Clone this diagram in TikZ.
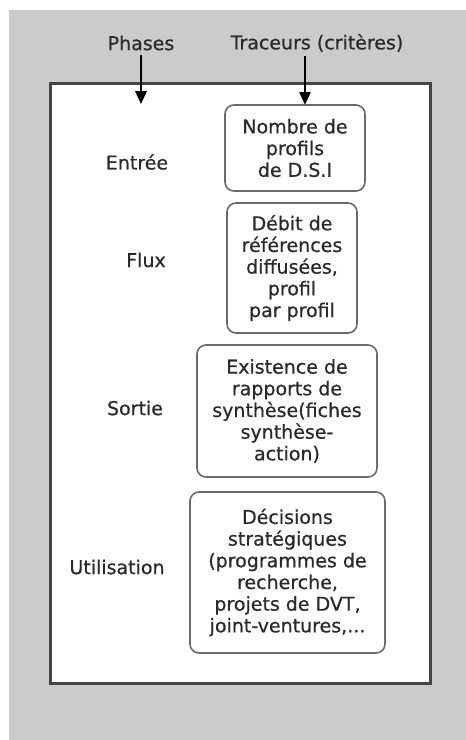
\documentclass[tikz,border=0pt]{standalone}
\usepackage{fontspec}
\setmainfont{DejaVu Sans}
\newfontfamily\diagfont{DejaVu Sans}[FakeBold=0.6]
\usetikzlibrary{arrows.meta}
\definecolor{bggray}{HTML}{CBCBCB}
\definecolor{ink}{HTML}{2A2A2A}
\definecolor{framegray}{HTML}{454545}
\definecolor{boxgray}{HTML}{6A6A6A}
\begin{document}
\begin{tikzpicture}[x=1pt,y=-1pt,
  lbl/.style={font=\diagfont\fontsize{19}{21.7}\selectfont, text=ink, inner sep=0pt},
  crit/.style={draw=boxgray, line width=1.6pt, rounded corners=9pt, align=center,
    font=\diagfont\fontsize{19}{21.7}\selectfont, text=ink, inner sep=0pt},
  down/.style={-{Triangle[length=13pt,width=11pt]}, line width=2.8pt, draw=black}]
\useasboundingbox (0,0) rectangle (466,740);
% page and grey backdrop
\fill[white] (0,0) rectangle (466,740);
\fill[bggray] (9,10) rectangle (466,740);
% white panel
\draw[framegray, line width=3pt, fill=white] (50,83) rectangle (430,683);

% column headings
\node[lbl] (phases) at (141,43) {Phases};
\node[lbl] (traceurs) at (317,43) {Traceurs (critères)};

% phases
\node[lbl] (entree) at (137,162) {Entrée};
\node[lbl] (flux) at (146,260) {Flux};
\node[lbl] (sortie) at (135,408) {Sortie};
\node[lbl] (util) at (117,567) {Utilisation};

% criteria boxes
\node[crit, minimum width=140pt, minimum height=86pt] (b1) at (295,148)
  {Nombre de\\profils\\de D.S.I};
\node[crit, minimum width=130pt, minimum height=130pt] (b2) at (292,268)
  {Débit de\\références\\diffusées,\\profil\\par profil};
\node[crit, minimum width=180pt, minimum height=132pt] (b3) at (287,411)
  {Existence de\\rapports de\\synthèse(fiches\\synthèse-\\action)};
\node[crit, minimum width=195pt, minimum height=161pt] (b4) at (287.5,572.5)
  {Décisions\\stratégiques\\(programmes de\\recherche,\\projets de DVT,\\joint-ventures,...};

% arrows from the headings
\coordinate (tr) at (305,105);
\draw[down] (phases.south) ++(0,4) -- (phases.south |- b1.north);
\draw[down] (traceurs.south -| tr) ++(0,4) -- (tr);
\end{tikzpicture}
\end{document}
